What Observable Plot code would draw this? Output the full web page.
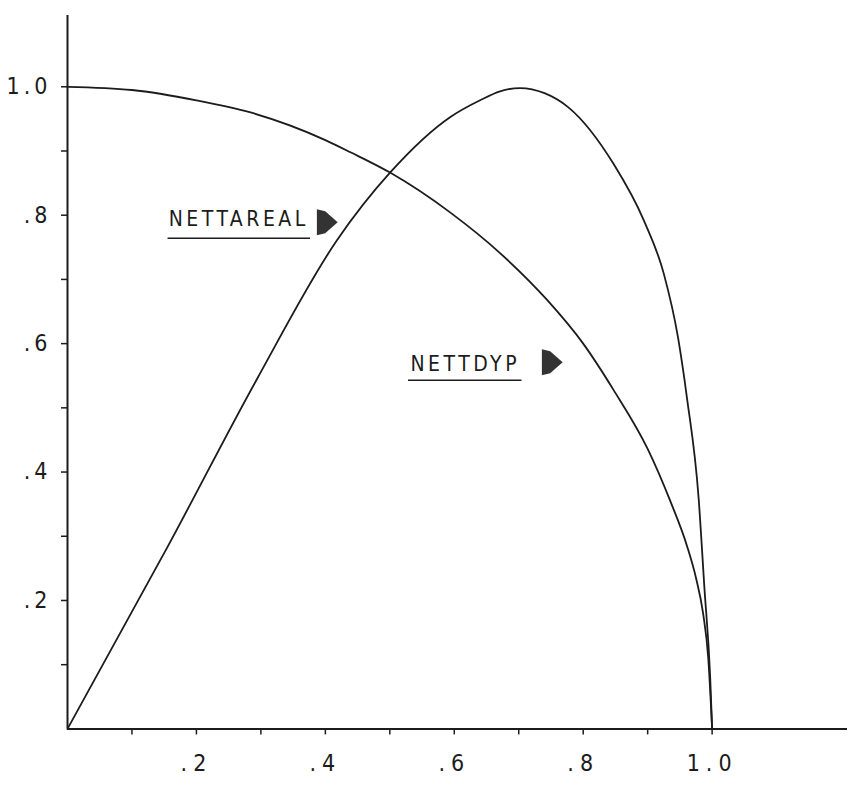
<!DOCTYPE html>
<html>
<head>
<meta charset="utf-8">
<script src="https://cdn.jsdelivr.net/npm/d3@7"></script>
<script src="https://cdn.jsdelivr.net/npm/@observablehq/plot@0.6"></script>
<style>
  html, body { margin: 0; padding: 0; background: #fff; }
  #chart svg g[aria-label="x-axis tick label"] text { letter-spacing: 6px; }
  #chart svg g[aria-label="y-axis tick label"] text { letter-spacing: 4px; }
  #chart svg g[aria-label="text"] text { letter-spacing: 3.5px; }
</style>
</head>
<body>
<div id="chart"></div>
<script>
// NETTDYP curve (falling)
const dypX = [0, 0.1, 0.2, 0.284, 0.4, 0.439, 0.501, 0.594, 0.671, 0.744, 0.8, 0.847, 0.9, 0.935, 0.961, 0.975, 0.986, 0.994, 1.0];
const dypY = [1.0, 0.995, 0.979, 0.960, 0.917, 0.898, 0.866, 0.804, 0.741, 0.668, 0.600, 0.528, 0.436, 0.355, 0.285, 0.235, 0.180, 0.110, 0];

// NETTAREAL curve (rising, peak near 0.7)
const arealX = [0, 0.155, 0.294, 0.418, 0.501, 0.594, 0.640, 0.671, 0.702, 0.740, 0.777, 0.847, 0.894, 0.925, 0.947, 0.961, 0.979, 0.988, 0.997, 1.0];
const arealY = [0, 0.283, 0.545, 0.761, 0.867, 0.953, 0.979, 0.993, 0.998, 0.990, 0.968, 0.880, 0.792, 0.709, 0.610, 0.515, 0.360, 0.220, 0.080, 0];

// Axis ticks
const xTicks = [0.1, 0.2, 0.3, 0.4, 0.5, 0.6, 0.7, 0.8, 0.9, 1.0];
const xTickLabels = ["", ".2", "", ".4", "", ".6", "", ".8", "", "1.0"];
const yTicks = [0.1, 0.2, 0.3, 0.4, 0.5, 0.6, 0.7, 0.8, 0.9, 1.0];
const yTickLabels = ["", ".2", "", ".4", "", ".6", "", ".8", "", "1.0"];

// Curve labels (data coordinates)
const labelNames = ["NETTAREAL", "NETTDYP"];
const labelX = [0.157, 0.532];
const labelY = [0.793, 0.568];
const underlineX1 = [0.156, 0.529];
const underlineX2 = [0.377, 0.705];
const underlineY = [0.764, 0.543];
const arrowX = [0.403, 0.752];
const arrowY = [0.789, 0.571];

const dyp = dypX.map((x, i) => ({x, y: dypY[i]}));
const areal = arealX.map((x, i) => ({x, y: arealY[i]}));
const labels = labelNames.map((name, i) => ({
  name, x: labelX[i], y: labelY[i],
  ux1: underlineX1[i], ux2: underlineX2[i], uy: underlineY[i],
  ax: arrowX[i], ay: arrowY[i]
}));

const xMax = 1.21, yMax = 1.111;
const ink = "#1c1c1c";

const blockArrow = {
  draw(context, size) {
    const r = Math.sqrt(size / Math.PI);
    const w = r * 0.8, h = r;
    context.moveTo(-w, -h);
    context.lineTo(-w * 0.2, -h * 0.85);
    context.lineTo(w, 0);
    context.lineTo(-w * 0.2, h * 0.85);
    context.lineTo(-w, h);
    context.closePath();
  }
};

const chart = Plot.plot({
  width: 851,
  height: 787,
  marginLeft: 67,
  marginRight: 4,
  marginTop: 15,
  marginBottom: 58.6,
  x: {domain: [0, xMax], label: null},
  y: {domain: [0, yMax], label: null},
  style: {background: "#fff", color: ink, fontFamily: "'DejaVu Sans Condensed', 'DejaVu Sans', sans-serif"},
  marks: [
    Plot.ruleX([0], {y1: 0, y2: yMax, stroke: ink, strokeWidth: 2}),
    Plot.ruleY([0], {x1: 0, x2: xMax, stroke: ink, strokeWidth: 2}),
    Plot.axisX({ticks: xTicks, tickSize: 6, tickPadding: 20, fontSize: 23,
      tickFormat: (d) => xTickLabels[xTicks.indexOf(d)], stroke: ink, strokeWidth: 1.5}),
    Plot.axisY({ticks: yTicks, tickSize: 6, tickPadding: 10, fontSize: 23,
      tickFormat: (d) => yTickLabels[yTicks.indexOf(d)], stroke: ink, strokeWidth: 1.5}),
    Plot.line(dyp, {x: "x", y: "y", curve: "monotone-x", stroke: ink, strokeWidth: 1.8}),
    Plot.line(areal, {x: "x", y: "y", curve: "monotone-x", stroke: ink, strokeWidth: 1.8}),
    Plot.text(labels, {x: "x", y: "y", text: "name", textAnchor: "start", fontSize: 21, fill: ink}),
    Plot.ruleY(labels, {y: "uy", x1: "ux1", x2: "ux2", stroke: ink, strokeWidth: 1.5}),
    Plot.dot(labels, {x: "ax", y: "ay", r: 13, symbol: blockArrow, fill: "#333", stroke: "none"})
  ]
});
document.getElementById("chart").appendChild(chart);
</script>
</body>
</html>
